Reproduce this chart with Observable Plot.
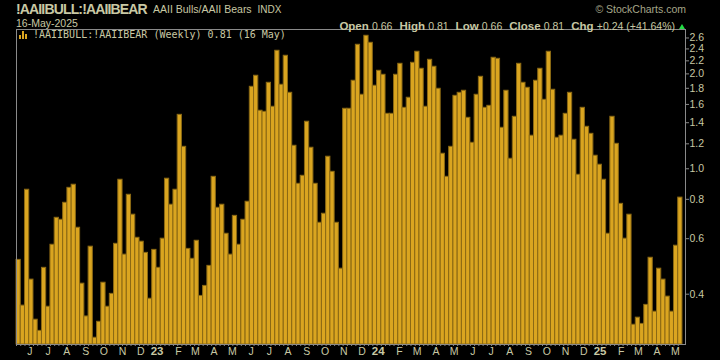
<!DOCTYPE html>
<html><head><meta charset="utf-8">
<script src="https://cdn.jsdelivr.net/npm/d3@7"></script>
<script src="https://cdn.jsdelivr.net/npm/@observablehq/plot@0.6"></script>
<style>
html,body{margin:0;padding:0;background:#000;}
#wrap{position:relative;width:720px;height:360px;overflow:hidden;background:#000;font-family:"Liberation Sans",Arial,sans-serif;color:#c8c8a4;}
.abs{position:absolute;white-space:nowrap;line-height:1;}
#chart{position:absolute;left:0;top:0;}
.b{font-weight:bold;font-size:11.5px;}
.v{font-size:10.5px;margin-right:7px;}
.v.last{margin-right:0;}
</style></head><body>
<div id="wrap">
  <div id="chart"></div>
  <div class="abs" id="title" style="left:16px;top:2px;font-size:14px;font-weight:bold;letter-spacing:-0.85px"></div>
  <div class="abs" id="subtitle" style="left:153px;top:3.6px;font-size:10.5px"></div>
  <div class="abs" id="date" style="left:16px;top:17.6px;font-size:10.5px"></div>
  <div class="abs" id="copy" style="right:34px;top:3.5px;font-size:10.5px;color:#a6a68a"></div>
  <div class="abs" id="stats" style="right:35px;top:16.5px;"></div>
  <div class="abs" id="legend" style="left:19px;top:30px;font-family:'DejaVu Sans Mono',monospace;font-size:10px;"></div>
</div>
<script>
// ---- data ----
const symbol = "!AAIIBULL:!AAIIBEAR";
const subtitle = "AAII Bulls/AAII Bears";
const exchange = "INDX";
const dateLabel = "16-May-2025";
const copyright = "\u00A9 StockCharts.com";
const statLabels = ["Open", "High", "Low", "Close", "Chg"];
const statValues = ["0.66", "0.81", "0.66", "0.81", "+0.24 (+41.64%)"];
const legendText = "!AAIIBULL:!AAIIBEAR (Weekly) 0.81 (16 May)";
const firstWeek = "2022-05-20";
const lastWeek = "2025-05-16";
const values = [0.514,0.368,0.858,0.445,0.332,0.306,0.485,0.365,0.574,0.699,
0.689,0.780,0.870,0.890,0.650,0.432,0.340,0.566,0.291,0.327,
0.435,0.365,0.401,0.578,0.923,0.534,0.827,0.715,0.604,0.587,
0.541,0.387,0.553,0.485,0.600,0.930,0.769,0.858,1.483,1.174,
0.557,0.518,0.591,0.395,0.425,0.492,0.943,0.752,0.769,0.622,
0.534,0.709,0.574,0.689,0.786,1.820,1.973,1.528,1.516,1.874,
1.573,2.368,1.847,2.283,1.742,1.183,0.896,0.950,1.410,1.166,
0.896,0.674,0.720,1.092,0.978,0.674,0.482,1.550,1.550,1.902,
2.474,1.717,2.642,2.510,1.834,2.046,1.987,1.494,1.494,1.987,
2.153,1.561,1.680,2.169,2.351,2.076,1.573,2.217,2.107,1.794,
1.116,0.943,1.174,1.704,1.742,1.768,1.451,1.209,1.717,1.958,
1.561,1.584,2.250,2.233,1.349,1.768,1.076,1.462,2.153,1.874,
1.807,1.273,1.902,2.076,1.655,2.351,1.781,1.254,1.273,1.494,
1.742,1.236,0.957,1.561,1.359,1.291,1.100,1.030,0.923,0.622,
1.462,1.200,0.774,0.600,0.715,0.320,0.337,0.322,0.370,0.522,
0.352,0.482,0.445,0.393,0.352,0.57,0.81];
const yTicks = [0.4,0.6,0.8,1.0,1.2,1.4,1.6,1.8,2.0,2.2,2.4,2.6];
const monthLetters = ["J","F","M","A","M","J","J","A","S","O","N","D"];
const yDomain = [0.277, 2.766];

// ---- header ----
document.getElementById("title").textContent = symbol;
document.getElementById("subtitle").innerHTML = subtitle + ' <span style="font-size:10px;margin-left:3px">' + exchange + '</span>';
document.getElementById("date").textContent = dateLabel;
document.getElementById("copy").textContent = copyright;
const stats = document.getElementById("stats");
statLabels.forEach((l, i) => {
  const a = document.createElement("span"); a.className = "b"; a.textContent = l + " ";
  const b = document.createElement("span"); b.className = "v" + (i === statLabels.length - 1 ? " last" : ""); b.textContent = statValues[i];
  stats.appendChild(a); stats.appendChild(b);
});
const tri = document.createElement("span");
tri.style.cssText = "display:inline-block;width:0;height:0;border-left:3.5px solid transparent;border-right:3.5px solid transparent;border-bottom:5px solid #22dd44;margin-left:4px;vertical-align:1px;";
stats.appendChild(tri);
const legend = document.getElementById("legend");
legend.innerHTML = '<span style="display:inline-block;width:9px;height:8px;position:relative;vertical-align:-1px;margin-right:5px">'
 + '<i style="position:absolute;left:0;bottom:0;width:2px;height:4px;background:#daa520"></i>'
 + '<i style="position:absolute;left:3px;bottom:0;width:2px;height:8px;background:#daa520"></i>'
 + '<i style="position:absolute;left:6px;bottom:0;width:2px;height:5px;background:#daa520"></i></span>';
legend.appendChild(document.createTextNode(legendText));

// ---- chart ----
const DAY = 864e5;
const dates = d3.utcFriday.range(new Date(firstWeek), new Date(+new Date(lastWeek) + DAY));
const data = values.map((v, i) => ({date: dates[i], value: v}));
const xDomain = [new Date(+dates[0] - 3.5 * DAY), new Date(+dates[dates.length - 1] + 8.5 * DAY)];
const monthTicks = d3.utcMonth.range(d3.utcMonth.ceil(xDomain[0]), xDomain[1]);
const letterTicks = monthTicks.filter(d => d.getUTCMonth() !== 0);
const yearTicks = monthTicks.filter(d => d.getUTCMonth() === 0);
const weekEdges = dates.map(d => new Date(+d - 3.5 * DAY));

const chart = Plot.plot({
  width: 720, height: 360,
  marginLeft: 16, marginRight: 35, marginTop: 29, marginBottom: 16,
  style: {background: "transparent", color: "#c8c8a4", fontFamily: "Liberation Sans, Arial, sans-serif", fontSize: "10.5px"},
  x: {type: "utc", domain: xDomain, label: null},
  y: {type: "log", domain: yDomain, label: null},
  marks: [
    Plot.rectY(data, {
      x1: d => new Date(+d.date - 3.5 * DAY),
      x2: d => new Date(+d.date + 3.5 * DAY),
      y1: yDomain[0], y2: "value",
      fill: "#daa520", stroke: "#8b6914", strokeWidth: 1
    }),
    Plot.frame({stroke: "#8a8a8a"}),
    Plot.axisY({anchor: "right", label: null, ticks: yTicks, tickFormat: d3.format(".1f"), tickSize: 3, tickPadding: 1, stroke: "#8a8a8a", fill: "#c8c8a4"}),
    Plot.axisX({ticks: weekEdges, label: null, tickFormat: () => "", tickSize: 2, stroke: "#8a8a8a"}),
    Plot.axisX({ticks: letterTicks, label: null, tickFormat: d => monthLetters[d.getUTCMonth()], tickSize: 0, tickPadding: 3, dx: 4, fill: "#c8c8a4"}),
    Plot.axisX({ticks: yearTicks, label: null, tickFormat: d => String(d.getUTCFullYear()).slice(2), tickSize: 0, tickPadding: 2.5, dx: 1.5, fontWeight: "bold", fontSize: 11.5, fill: "#c8c8a4"})
  ]
});
document.getElementById("chart").appendChild(chart);
</script>
</body></html>
